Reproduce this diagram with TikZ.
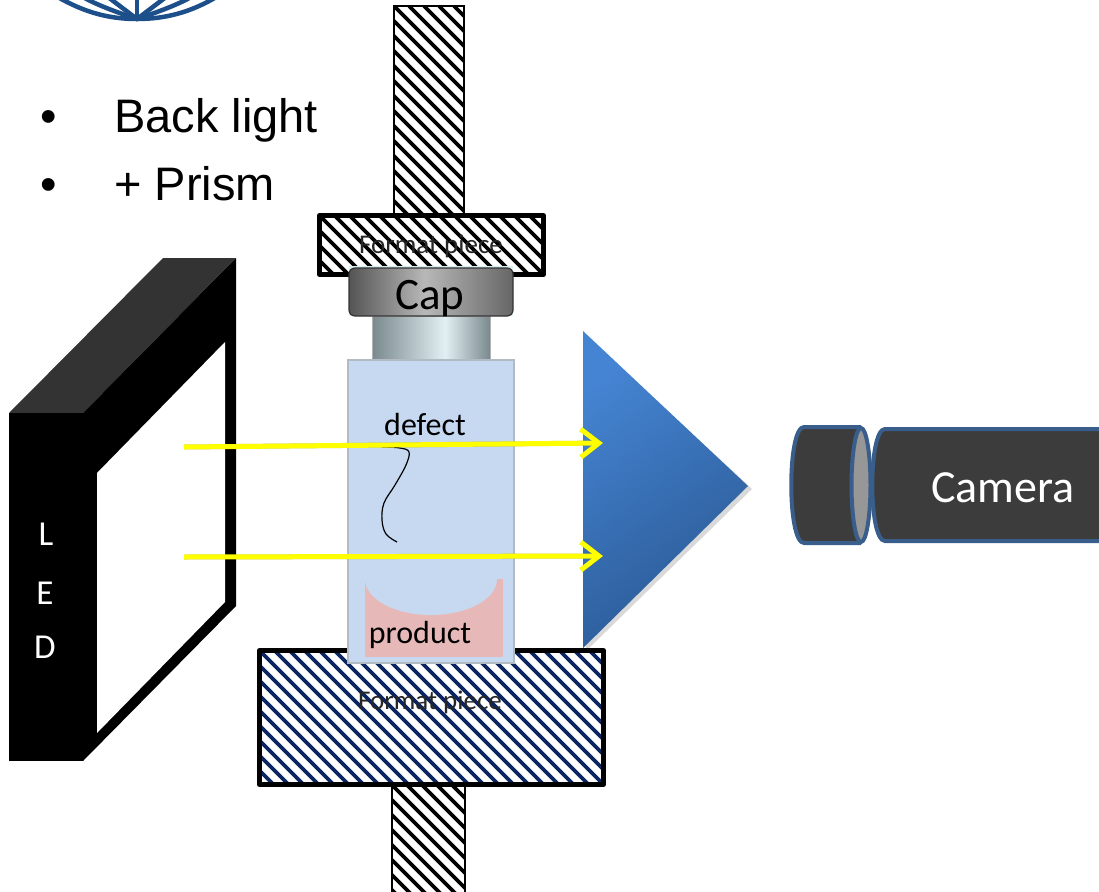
\documentclass[tikz,border=0pt]{standalone}
\usepackage{fontspec}
\setmainfont{Carlito}
\newfontfamily\listfont{Liberation Sans}
\usetikzlibrary{arrows.meta}

\definecolor{logoBlue}{HTML}{1D4F8B}
\definecolor{hatchNavy}{HTML}{0B2462}
\definecolor{vialBlue}{HTML}{C6D9F1}
\definecolor{vialEdge}{HTML}{B2BAC4}
\definecolor{productPink}{HTML}{E6B9B8}
\definecolor{shoulder}{HTML}{D6EEF0}
\definecolor{capDark}{HTML}{545454}
\definecolor{capDarkR}{HTML}{666666}
\definecolor{capLight}{HTML}{B8B8B8}
\definecolor{neckDark}{HTML}{7A898D}
\definecolor{neckLight}{HTML}{E2EFF3}
\definecolor{prismLight}{HTML}{4584D2}
\definecolor{prismDark}{HTML}{2A5994}
\definecolor{camBody}{HTML}{3C3C3C}
\definecolor{camEdge}{HTML}{3A5E8C}
\definecolor{lensRing}{HTML}{979797}
\definecolor{ledTop}{HTML}{333333}
\definecolor{rayYellow}{HTML}{FFFF00}

% cylinder-like sheen of the vial neck
\pgfdeclarehorizontalshading{neckshade}{100bp}{color(0bp)=(neckDark); color(25bp)=(neckDark); color(56bp)=(neckLight); color(75bp)=(neckDark); color(100bp)=(neckDark)}
% sheen of the cap: dark rims, light middle
\pgfdeclarehorizontalshading{capshade}{100bp}{color(0bp)=(capDark); color(25bp)=(capDark); color(48bp)=(capLight); color(75bp)=(capDarkR); color(100bp)=(capDarkR)}

% white box with diagonal stripes, clipped to the box
\newcommand{\hatchbox}[5]{%
  \begin{scope}
    \clip (#1,#2) rectangle (#3,#4);
    \fill[white] (#1,#2) rectangle (#3,#4);
    \foreach \s in {-420,-405,...,420}
      \draw[#5, line width=3.6pt] ({#1+\s},#2) -- ++(420,420);
  \end{scope}}

\begin{document}
\begin{tikzpicture}[x=1pt, y=-1pt,
    listtext/.style={anchor=base west, inner sep=0pt, font=\listfont\fontsize{47}{56}\selectfont},
    listdot/.style={anchor=base, inner sep=0pt, font=\listfont\fontsize{47}{56}\selectfont},
    piecelabel/.style={anchor=base, inner sep=0pt, font=\fontsize{27}{32}\selectfont, text=black!85},
    vialtext/.style={anchor=base, inner sep=0pt, font=\fontsize{32}{38}\selectfont},
    ledletter/.style={anchor=base, inner sep=0pt, text=white, font=\fontsize{35}{42}\selectfont},
    ray/.style={draw=rayYellow, line width=5pt, -{Straight Barb[length=18pt,width=28pt]}},
    rayshadow/.style={draw=black, opacity=0.25, line width=5pt, -{Straight Barb[length=18pt,width=28pt]}},
    piece/.style={draw=black, line width=5pt, line join=round},
    rod/.style={draw=black, line width=1.5pt}]
\useasboundingbox (0,0) rectangle (1099,891);

% globe logo, only its lower rim is in view
\begin{scope}
  \clip (40,0) rectangle (240,28);
  \begin{scope}[draw=logoBlue, line width=4.5pt, line cap=round]
    \draw (56,-4) .. controls (85,13) and (110,19) .. (137,19) .. controls (164,19) and (190,13) .. (218,-4);
    \draw (137,19) -- (137,-6);
    \draw (137,19) -- (104,-6);
    \draw (137,19) -- (170,-6);
    \draw (137,19) .. controls (110,10) and (90,2) .. (78,-6);
    \draw (137,19) .. controls (164,10) and (184,2) .. (196,-6);
  \end{scope}
\end{scope}

% bullet list
\node[listdot] (dot1) at (49,132) {•};
\node[listtext] (item1) at (114,132) {Back light};
\node[listdot] (dot2) at (49,200) {•};
\node[listtext] (item2) at (114,200) {+ Prism};

% holding rods
\hatchbox{394}{6}{464}{216}{black}
\draw[rod] (394,6) rectangle (464,216);
\hatchbox{392}{785}{465}{895}{black}
\draw[rod] (392,785) rectangle (465,895);

% format pieces
\hatchbox{319}{215}{544}{275}{black}
\draw[piece] (319.5,215.5) rectangle (543.5,274.5);
\hatchbox{259}{650}{604}{785}{hatchNavy}
\draw[piece] (259.5,650.5) rectangle (603.5,784.5);
\node[piecelabel] (fpTop) at (431,253) {Format piece};

% vial: shoulder, neck and cap
\fill[shoulder] (349,266) rectangle (513,316);
\shade[shading=neckshade, draw=gray!60, line width=1pt] (372,316) rectangle (490,360);
\shade[shading=capshade, draw=black!80, line width=1.2pt, rounded corners=6pt] (349,268) rectangle (513,316);
\node[anchor=base, inner sep=0pt, font=\fontsize{45}{54}\selectfont] (cap) at (430,309) {Cap};

% vial body with product
\fill[vialBlue, draw=vialEdge, line width=1.5pt] (348,360) rectangle (514,663);
\fill[productPink] (365,579) rectangle (503,657);
\fill[vialBlue] (365,579) arc[start angle=180, end angle=0, x radius=66, y radius=36] -- cycle;
\node[vialtext] (product) at (420,643) {product};
\node[vialtext] (defect) at (425,435) {defect};
\draw[line width=1.2pt] plot[smooth, tension=0.6] coordinates {(382,447) (400,448) (409,452) (406,465) (395,485) (384,503) (382,520) (386,534) (397,542)};
\node[piecelabel] (fpBottom) at (430,709) {Format piece};

% LED panel
\fill[ledTop] (9,413) -- (163,258) -- (236,258) -- (83,413) -- cycle;
\fill[black] (9,413) rectangle (83,761);
\fill[black] (83,413) -- (236,258) -- (236,606) -- (83,761) -- cycle;
\fill[white] (97,473) -- (225,342) -- (225,602) -- (97,733) -- cycle;
\node[ledletter] (ledL) at (46,545) {L};
\node[ledletter] (ledE) at (45,604) {E};
\node[ledletter] (ledD) at (45,658) {D};

% prism
\fill[black, opacity=0.15] (586,336) -- (752,489) -- (586,651) -- cycle;
\shade[top color=prismLight, bottom color=prismDark, shading angle=35] (583,331) -- (748,486) -- (583,648) -- cycle;

% camera
\filldraw[fill=camBody, draw=camEdge, line width=4pt] (1110,429) -- (885,429) .. controls (868,429) and (868,541) .. (885,541) -- (1110,541);
\filldraw[fill=camBody, draw=camEdge, line width=4pt] (861,427) -- (804,427) .. controls (787,427) and (787,543) .. (804,543) -- (861,543);
\filldraw[fill=lensRing, draw=camEdge, line width=4pt] (861,485) ellipse[x radius=9.5, y radius=57];
\node[anchor=base, inner sep=0pt, text=white, font=\fontsize{46}{55}\selectfont] (camera) at (1003,502) {Camera};

% light rays from the panel to the prism
\coordinate (ray1s) at (184,447);
\coordinate (ray1e) at (603,443);
\coordinate (ray2s) at (184,557);
\coordinate (ray2e) at (603,556);
\draw[rayshadow, shift={(1.5,2.5)}] (ray1s) -- (ray1e);
\draw[rayshadow, shift={(1.5,2.5)}] (ray2s) -- (ray2e);
\draw[ray] (ray1s) -- (ray1e);
\draw[ray] (ray2s) -- (ray2e);
\end{tikzpicture}
\end{document}
